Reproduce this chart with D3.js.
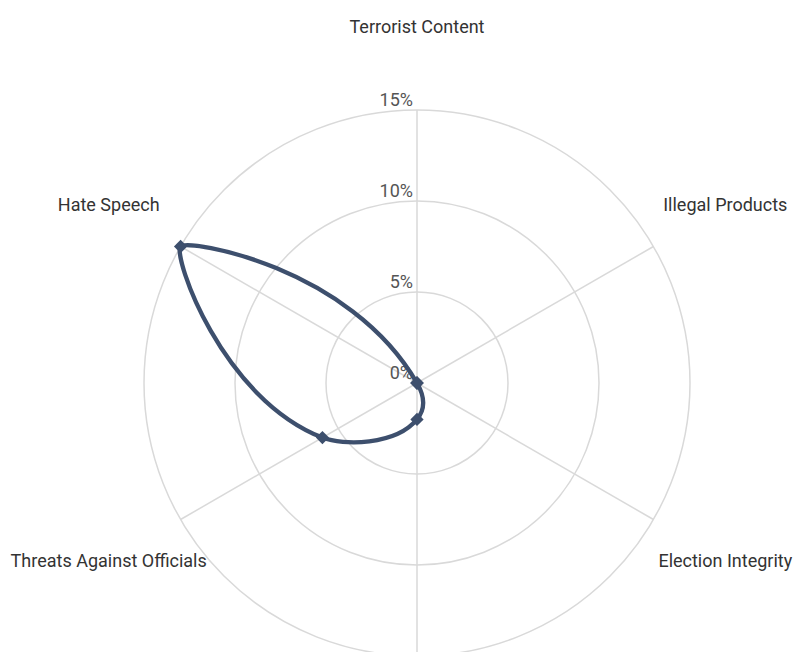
<!DOCTYPE html>
<html>
<head>
<meta charset="utf-8">
<script src="https://cdn.jsdelivr.net/npm/d3@7"></script>
<style>
  html, body { margin: 0; padding: 0; background: #ffffff; }
  svg { display: block; font-family: Roboto, "Noto Sans", sans-serif; }
</style>
</head>
<body>
<svg id="chart" width="794" height="652"></svg>
<script>
// Share of flagged items per policy area (percent)
const categories = [
  "Terrorist Content",
  "Illegal Products",
  "Election Integrity",
  "Harassment",
  "Threats Against Officials",
  "Hate Speech"
];
const values = [0, 0, 0, 2, 6, 15];
const tickValues = [0, 5, 10, 15];
const tickLabels = ["0%", "5%", "10%", "15%"];

const width = 794, height = 652;
const cx = 417, cy = 383;
const outerRadius = 273;
const labelRadius = outerRadius + 83;

const svg = d3.select("#chart");
const g = svg.append("g").attr("transform", `translate(${cx},${cy})`);

const r = d3.scaleLinear().domain([0, 15]).range([0, outerRadius]);
// categories spread evenly round the circle, clockwise from the top
const angle = d3.scaleLinear().domain([0, categories.length]).range([0, 2 * Math.PI]);
const angleOf = (i) => angle(i);

// Smoothed closed loop. Tangents bisect the directions to the neighbours,
// handle lengths follow the neighbour spacing, and control points are kept
// inside the data's bounding box (plus a small margin) so the line does not
// overshoot the outermost values.
function curveSmoothLoop(smooth, margin) {
  function Curve(context) { this._context = context; }
  Curve.prototype = {
    areaStart() {}, areaEnd() {},
    lineStart() { this._pts = []; },
    point(x, y) { this._pts.push([+x, +y]); },
    lineEnd() {
      const pts = [];
      this._pts.forEach(p => {
        const last = pts[pts.length - 1];
        if (!last || Math.hypot(p[0] - last[0], p[1] - last[1]) > 1e-6) pts.push(p);
      });
      while (pts.length > 1) {
        const a = pts[0], b = pts[pts.length - 1];
        if (Math.hypot(a[0] - b[0], a[1] - b[1]) > 1e-6) break;
        pts.pop();
      }
      const n = pts.length, ctx = this._context;
      if (n < 3) {
        pts.forEach((p, i) => i ? ctx.lineTo(p[0], p[1]) : ctx.moveTo(p[0], p[1]));
        ctx.closePath();
        return;
      }
      const xs = pts.map(p => p[0]), ys = pts.map(p => p[1]);
      const box = [d3.min(xs) - margin, d3.max(xs) + margin, d3.min(ys) - margin, d3.max(ys) + margin];
      // longest handle along (dx, dy) that keeps the control point in the box
      const fit = (p, dx, dy, len) => {
        let t = len;
        if (dx > 0) t = Math.min(t, (box[1] - p[0]) / dx);
        if (dx < 0) t = Math.min(t, (box[0] - p[0]) / dx);
        if (dy > 0) t = Math.min(t, (box[3] - p[1]) / dy);
        if (dy < 0) t = Math.min(t, (box[2] - p[1]) / dy);
        t = Math.max(0, t);
        return [p[0] + dx * t, p[1] + dy * t];
      };
      const hIn = [], hOut = [];
      for (let i = 0; i < n; i++) {
        const p = pts[i], prev = pts[(i - 1 + n) % n], next = pts[(i + 1) % n];
        const lp = Math.hypot(p[0] - prev[0], p[1] - prev[1]);
        const ln = Math.hypot(next[0] - p[0], next[1] - p[1]);
        let tx = (p[0] - prev[0]) / lp + (next[0] - p[0]) / ln;
        let ty = (p[1] - prev[1]) / lp + (next[1] - p[1]) / ln;
        const tl = Math.hypot(tx, ty) || 1;
        tx /= tl; ty /= tl;
        const span = Math.hypot(next[0] - prev[0], next[1] - prev[1]) * smooth;
        const ratio = ln / (ln + lp);
        hOut.push(fit(p, tx, ty, span * ratio));
        hIn.push(fit(p, -tx, -ty, span * (1 - ratio)));
      }
      ctx.moveTo(pts[0][0], pts[0][1]);
      for (let i = 0; i < n; i++) {
        const j = (i + 1) % n;
        ctx.bezierCurveTo(hOut[i][0], hOut[i][1], hIn[j][0], hIn[j][1], pts[j][0], pts[j][1]);
      }
      ctx.closePath();
    }
  };
  return (context) => new Curve(context);
}

const gridColor = "#d9d9d9";

// concentric rings
g.append("g").selectAll("circle")
  .data(tickValues.filter(v => v > 0))
  .join("circle")
  .attr("r", d => r(d))
  .attr("fill", "none")
  .attr("stroke", gridColor)
  .attr("stroke-width", 1.5);

// spokes
g.append("g").selectAll("line")
  .data(categories)
  .join("line")
  .attr("x1", 0).attr("y1", 0)
  .attr("x2", (d, i) => d3.pointRadial(angleOf(i), outerRadius)[0])
  .attr("y2", (d, i) => d3.pointRadial(angleOf(i), outerRadius)[1])
  .attr("stroke", gridColor)
  .attr("stroke-width", 1.5);

// ring labels along the top spoke
g.append("g").selectAll("text")
  .data(tickValues)
  .join("text")
  .attr("x", -4)
  .attr("y", d => -r(d) - 4)
  .attr("text-anchor", "end")
  .attr("font-size", 18)
  .attr("fill", "#555")
  .text((d, i) => tickLabels[i]);

// category labels (those that fall inside the drawing area)
const labelData = categories
  .map((name, i) => {
    const [x, y] = d3.pointRadial(angleOf(i), labelRadius);
    return { name, x, y };
  })
  .filter(d => d.y + cy < height - 10 && d.y + cy > 0);

g.append("g").selectAll("text")
  .data(labelData)
  .join("text")
  .attr("x", d => d.x)
  .attr("y", d => d.y - 1)
  .attr("text-anchor", "middle")
  .attr("dominant-baseline", "central")
  .attr("font-size", 18)
  .attr("fill", "#333")
  .text(d => d.name);

const lineColor = "#3d4f6d";

const radarLine = d3.lineRadial()
  .angle((d, i) => angleOf(i))
  .radius(d => r(d))
  .curve(curveSmoothLoop(0.52, 8));

g.append("path")
  .datum(values)
  .attr("d", radarLine)
  .attr("fill", "none")
  .attr("stroke", lineColor)
  .attr("stroke-width", 4.3)
  .attr("stroke-linejoin", "round");

// diamond markers
g.append("g").selectAll("path")
  .data(values)
  .join("path")
  .attr("transform", (d, i) => {
    const [x, y] = d3.pointRadial(angleOf(i), r(d));
    return `translate(${x},${y}) rotate(45)`;
  })
  .attr("d", d3.symbol(d3.symbolSquare, 88))
  .attr("fill", lineColor);
</script>
</body>
</html>
